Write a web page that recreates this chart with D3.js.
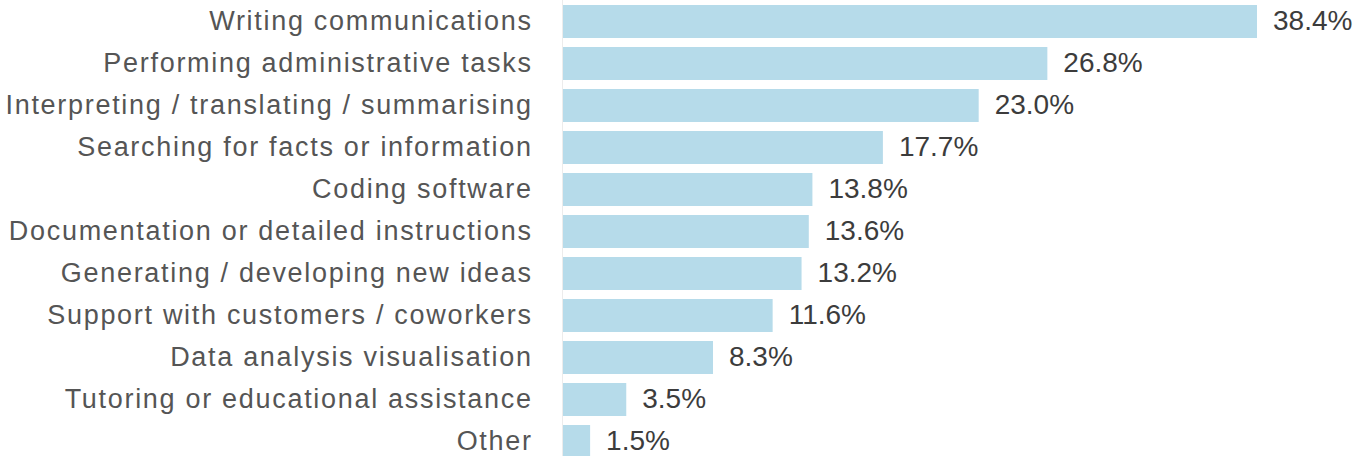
<!DOCTYPE html>
<html>
<head>
<meta charset="utf-8">
<script src="https://cdn.jsdelivr.net/npm/d3@7"></script>
<style>
  html, body { margin: 0; padding: 0; background: #fff; }
  svg { display: block; }
</style>
</head>
<body>
<svg id="chart" width="1359" height="456"></svg>
<script>
// Share of respondents using AI for each task
const categories = [
  "Writing communications",
  "Performing administrative tasks",
  "Interpreting / translating / summarising",
  "Searching for facts or information",
  "Coding software",
  "Documentation or detailed instructions",
  "Generating / developing new ideas",
  "Support with customers / coworkers",
  "Data analysis visualisation",
  "Tutoring or educational assistance",
  "Other"
];
const values = [38.4, 26.8, 23.0, 17.7, 13.8, 13.6, 13.2, 11.6, 8.3, 3.5, 1.5];

const svg = d3.select("#chart");
const fontFamily = "'Liberation Sans', Arial, sans-serif";
const catSpacing = 1.7;

const x0 = 563;
const x = d3.scaleLinear().domain([0, 38.4]).range([x0, 1257]);
const y = d3.scaleBand()
  .domain(categories)
  .range([0.5, 0.5 + categories.length * 42])
  .paddingInner(0.214)
  .paddingOuter(0.107);

// faint baseline along the bars' origin
svg.append("line")
  .attr("x1", x0 - 0.5).attr("x2", x0 - 0.5)
  .attr("y1", 0).attr("y2", 456)
  .attr("stroke", "#ececec").attr("stroke-width", 1);

svg.selectAll("rect.bar")
  .data(categories)
  .join("rect")
  .attr("class", "bar")
  .attr("x", x(0))
  .attr("y", d => y(d))
  .attr("width", (d, i) => x(values[i]) - x(0))
  .attr("height", y.bandwidth())
  .attr("fill", "#b6dbea");

// category labels (trailing letter-spacing compensated in x)
svg.selectAll("text.cat")
  .data(categories)
  .join("text")
  .attr("class", "cat")
  .attr("x", 531 + catSpacing)
  .attr("y", d => y(d) + y.bandwidth() / 2)
  .attr("dy", "0.32em")
  .attr("text-anchor", "end")
  .attr("font-family", fontFamily)
  .attr("font-size", 27)
  .attr("letter-spacing", catSpacing)
  .attr("fill", "#555")
  .text(d => d);

// value labels
svg.selectAll("text.val")
  .data(categories)
  .join("text")
  .attr("class", "val")
  .attr("x", (d, i) => x(values[i]) + 16)
  .attr("y", d => y(d) + y.bandwidth() / 2)
  .attr("dy", "0.32em")
  .attr("font-family", fontFamily)
  .attr("font-size", 28)
  .attr("fill", "#3c3c3c")
  .text((d, i) => values[i].toFixed(1) + "%");
</script>
</body>
</html>
